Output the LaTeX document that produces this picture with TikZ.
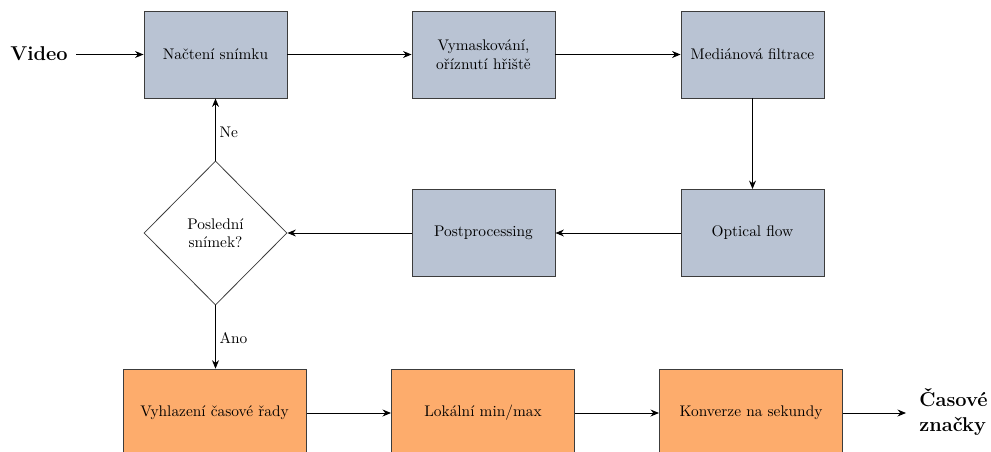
\documentclass[tikz,border=0pt]{standalone}
\usepackage{fontspec}
\usetikzlibrary{shapes.geometric,arrows.meta}
\definecolor{boxblue}{RGB}{185,195,211}
\definecolor{boxorange}{RGB}{253,172,108}
\definecolor{edgegray}{RGB}{60,60,60}
\begin{document}
\begin{tikzpicture}[x=0.65pt,y=-0.65pt,
  bluebox/.style={draw=edgegray,line width=0.6pt,fill=boxblue,inner sep=0pt,
    minimum width=92.95pt,minimum height=56.55pt,align=center},
  orangebox/.style={draw=edgegray,line width=0.6pt,fill=boxorange,inner sep=0pt,
    minimum width=119pt,minimum height=57pt,align=center},
  decision/.style={draw=edgegray,line width=0.5pt,diamond,inner sep=0pt,
    minimum width=93pt,minimum height=93.6pt,align=center},
  conn/.style={-{Stealth[length=5.5pt,width=4.5pt]},line width=0.6pt,black},
  biglabel/.style={font=\fontsize{13}{16}\selectfont\bfseries,inner sep=0pt}]
\path[use as bounding box] (0,0) rectangle (991,452);
\clip (0,0) rectangle (991,452);
\node[biglabel,anchor=west] (video) at (10,54) {Video};
\node[bluebox] (load) at (215.5,54.5) {Načtení snímku};
\node[bluebox] (mask) at (483.5,54.5) {Vymaskování,\\oříznutí hřiště};
\node[bluebox] (median) at (752.5,54.5) {Mediánová filtrace};
\node[bluebox] (flow) at (752.5,233) {Optical flow};
\node[bluebox] (post) at (483.5,233) {Postprocessing};
\node[decision] (last) at (215.5,233) {Poslední\\snímek?};
\node[orangebox] (smooth) at (214.5,413) {Vyhlazení časové řady};
\node[orangebox] (minmax) at (483,413) {Lokální min/max};
\node[orangebox] (conv) at (751,413) {Konverze na sekundy};
\node[biglabel,anchor=west,align=left] (out) at (919,412) {Časové\\značky};
\coordinate (vs) at (76,54.5);
\coordinate (oe) at (906,413);
\draw[conn] (vs) -- (load.west);
\draw[conn] (load) -- (mask);
\draw[conn] (mask) -- (median);
\draw[conn] (median) -- (flow);
\draw[conn] (flow) -- (post);
\draw[conn] (post) -- (last.east);
\draw[conn] (last.north) -- node[right,xshift=-1pt,pos=0.45]{Ne} (load.south);
\draw[conn] (last.south) -- node[right,xshift=-1pt,pos=0.52]{Ano} (last.south |- smooth.north);
\draw[conn] (smooth) -- (minmax);
\draw[conn] (minmax) -- (conv);
\draw[conn] (conv.east) -- (oe);
\end{tikzpicture}
\end{document}
